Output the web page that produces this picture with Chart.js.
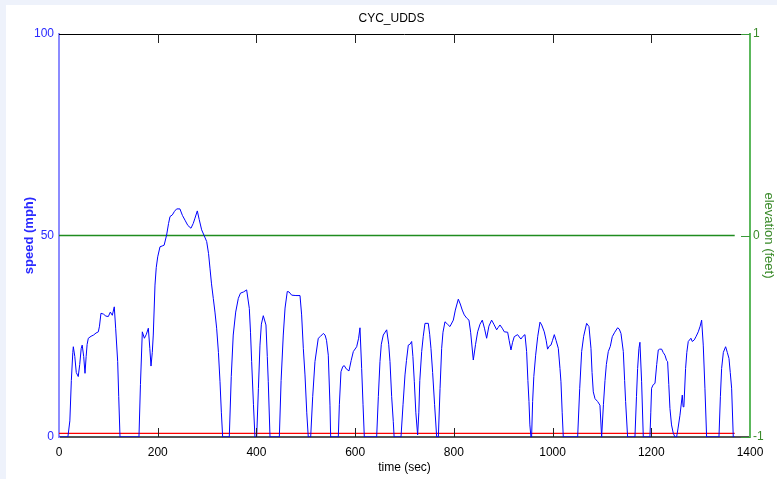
<!DOCTYPE html>
<html>
<head>
<meta charset="utf-8">
<title>CYC_UDDS</title>
<script src="https://cdn.jsdelivr.net/npm/chart.js@4/dist/chart.umd.min.js"></script>
<style>
  html, body { margin: 0; padding: 0; background: #eef2fb; }
  #wrap { position: absolute; left: 6px; top: 5px; width: 771px; height: 474px; background: #fff; }
  canvas { display: block; }
</style>
</head>
<body>
<div id="wrap"><canvas id="cyc-chart" width="771" height="474"></canvas></div>
<script>
// UDDS drive cycle
var timeSec = [0, 18, 22, 25, 28, 29, 32, 35, 39, 42, 45, 47, 50, 52.7, 55, 57, 59.4, 65, 70, 75, 79.7, 82, 85, 90, 95, 100, 104, 108, 112, 114.8, 118.9, 121, 123.6,
  162, 165, 168.8, 173, 177, 181, 184, 186.4, 189, 191, 194.5, 197, 200, 204.6, 209, 213, 218, 222, 224.9, 229.6, 234, 238.4, 245, 250, 255.3, 261, 267.4, 272, 275.5, 280.2, 284, 289, 294, 299.2, 303, 305.9, 309, 312.6, 316, 319.4, 323, 326.2, 329, 331.6,
  345, 349, 353, 358, 363.3, 367.7, 374, 380.2, 385.6, 388, 390.3, 394, 397,
  400.5, 404, 407.2, 410, 413.9, 419.3, 422, 424, 427.5,
  446.4, 450, 454.4, 458, 462.5, 466, 471.4, 480, 488.3, 491.6, 495, 498.4, 502, 505,
  509.9, 514, 518.6, 525.3, 530, 535.5, 539, 542, 545.6, 549, 550.4,
  565.9, 568, 571.3, 575, 578, 582, 587.5, 592, 596.3, 603.1, 607, 609.8, 613.2, 616, 618.6,
  643.6, 647, 650.3, 653, 657, 663.9, 668, 670.6, 674, 677.3, 679,
  692.9, 697, 701, 704, 707.7, 711, 714.5, 717, 719.9, 723, 726.6,
  729, 731, 734.8, 738, 741.5, 748.2, 751, 753.6, 757, 761, 765.2,
  768.6, 772, 775.3, 778, 782, 787, 792.1, 798.9, 803, 809, 813, 817, 821.1, 826, 830.6, 834, 839.4, 844, 848.2, 853, 857.6, 862, 866.4, 871, 876.5, 881, 886.7, 890, 893.4, 898, 902.2, 909, 912, 915.7, 919, 922.4, 929.1, 935.8, 940, 944.1, 947.4, 950, 952.2, 954, 956.2,
  957.5, 959.6, 962, 965.7, 970, 974.5, 978, 983.2, 987, 989.9, 993, 996.7, 1000, 1003.5, 1007, 1011.6, 1015, 1017, 1019.5, 1021.7,
  1050.8, 1055, 1058.9, 1063, 1069, 1073.8, 1077.8, 1080, 1082.5, 1086, 1091.3, 1096, 1099.4,
  1103, 1106.2, 1109, 1112.9, 1117, 1121, 1126, 1131.8, 1135, 1138.6, 1143.3, 1146, 1148, 1152,
  1166.9, 1170, 1172.3, 1175, 1177, 1180.4, 1183.8,
  1197.3, 1199, 1200.6, 1204, 1207.5, 1211, 1214.2, 1217, 1221, 1224, 1227.7, 1231, 1233.1, 1235.5, 1237.8, 1241, 1244.6, 1248,
  1251.3, 1254, 1258.1, 1262.8, 1264.5, 1266.2, 1269.5, 1272, 1274.9, 1280.3, 1283, 1287.1, 1291, 1295.2, 1299, 1302, 1305.3, 1308.7, 1312.1,
  1337.1, 1340, 1342.5, 1346, 1350.6, 1354, 1357.4, 1360, 1362.8, 1366.1, 1369];

var speedMph = [0, 0, 4, 14, 21, 22.4, 20, 16, 15, 18, 22, 22.8, 20, 15.8, 20, 23, 24.5, 25, 25.3, 25.8, 26.1, 27.5, 30.7, 30.5, 30, 29.9, 31, 30.2, 32.3, 27, 18.7, 10, 0,
  0, 13, 26.1, 24.5, 25.5, 27, 22, 17.6, 21, 25.3, 37.7, 42, 44.7, 47.2, 47.4, 47.6, 50.1, 53, 54.7, 55.1, 56, 56.6, 56.6, 55, 53.8, 52.5, 51.8, 53, 54.3, 56.1, 54, 51.4, 50, 48.5, 45.5, 41.9, 38, 34.4, 31, 27, 21, 13.7, 6, 0,
  0, 15, 25.3, 31, 34.4, 35.7, 36, 36.5, 31.9, 26, 18.7, 8, 0,
  0, 12, 22.8, 28, 30.1, 27.8, 20, 13.7, 0,
  0, 14, 25.3, 32, 36.1, 36, 35.2, 35.1, 35.1, 30.3, 22, 15.4, 6, 0,
  0, 10, 18.7, 24.5, 25, 25.7, 25.3, 24, 20.3, 7.9, 0,
  0, 8, 16.2, 17.5, 17.7, 16.9, 16.4, 19, 21.2, 22.4, 24.5, 27.1, 17, 8, 0,
  0, 10, 18.7, 23, 25.3, 26.6, 23, 18.7, 10, 3.8, 0,
  0, 8, 15.4, 19, 22.8, 23, 23.7, 20, 13.7, 6, 0.5,
  6, 14, 21.2, 25, 28.2, 28.2, 25.5, 22, 16, 8, 0,
  0, 12, 22, 26, 28.6, 28, 27.4, 29, 31.5, 34.2, 33, 31.5, 30.3, 29.5, 29, 26, 19.1, 23, 26.1, 28, 29, 27, 24.5, 27.5, 29, 28, 26.6, 27.2, 27.8, 27, 26.1, 26, 24, 21.6, 23.5, 24.9, 25.4, 24.3, 25, 25.4, 21.2, 14, 8.8, 3, 0,
  0, 8.8, 15, 20.3, 25, 28.5, 27.8, 26.1, 24, 21.8, 22.5, 22.8, 24, 25.4, 24, 22, 17, 13.7, 6, 0,
  0, 12, 21.2, 25, 28.2, 27.4, 22, 16, 11.2, 9.5, 8.8, 7.9, 0,
  8, 14, 18, 21.2, 22.5, 24.9, 26, 27.1, 26.8, 25.7, 21.2, 14, 8.8, 0,
  0, 10, 17, 22, 23.5, 13.7, 0,
  0, 6, 12.1, 13, 13.3, 18, 21.6, 21.8, 21.8, 21, 20.3, 19, 18.7, 13, 7.1, 3, 0.9, 0,
  0, 2, 5.4, 10.4, 7.5, 7.9, 17, 21, 23.7, 24.5, 23.7, 24.1, 25, 26.1, 27.5, 29, 22.8, 12.1, 0,
  0, 10, 17, 21, 22.4, 21, 19.5, 16, 12.1, 0, 0];

// flat traces: elevation (right axis) and the red trace near zero
var flatTime = [0, 1369];
var elevationFt = [0, 0];
var redTrace = [0.9, 0.9];

var xTicks = [0, 200, 400, 600, 800, 1000, 1200, 1400];

function toPoints(xs, ys) {
  return xs.map(function (x, i) { return { x: x, y: ys[i] }; });
}

// matlab-like inward ticks plus the top frame line
var frameTicks = {
  id: 'frameTicks',
  afterDatasetsDraw: function (chart) {
    var ctx = chart.ctx;
    var area = chart.chartArea;
    var x = chart.scales.x;
    var y1 = chart.scales.y1;
    ctx.save();
    ctx.lineWidth = 1;
    ctx.strokeStyle = '#000';
    ctx.beginPath();
    ctx.moveTo(area.left, area.top + 0.5);
    ctx.lineTo(area.right, area.top + 0.5);
    ctx.stroke();

    ctx.strokeStyle = '#222';
    x.ticks.forEach(function (t) {
      if (t.value === 0 || t.value === 1400) return;
      var px = Math.round(x.getPixelForValue(t.value)) + 0.5;
      ctx.beginPath();
      ctx.moveTo(px, area.bottom);
      ctx.lineTo(px, area.bottom - 9);
      ctx.moveTo(px, area.top);
      ctx.lineTo(px, area.top + 9);
      ctx.stroke();
    });

    ctx.strokeStyle = '#3a9a3a';
    y1.ticks.forEach(function (t) {
      var py = Math.round(y1.getPixelForValue(t.value)) + 0.5;
      ctx.beginPath();
      ctx.moveTo(area.right, py);
      ctx.lineTo(area.right - 9, py);
      ctx.stroke();
    });
    ctx.restore();
  }
};

var ctx = document.getElementById('cyc-chart').getContext('2d');

var cycChart = new Chart(ctx, {
  type: 'line',
  data: {
    datasets: [
      {
        data: toPoints(timeSec, speedMph),
        yAxisID: 'y',
        borderColor: '#0000ff',
        borderWidth: 1,
        pointRadius: 0,
        tension: 0
      },
      {
        data: toPoints(flatTime, redTrace),
        yAxisID: 'y',
        borderColor: '#ff0000',
        borderWidth: 1.2,
        pointRadius: 0
      },
      {
        data: toPoints(flatTime, elevationFt),
        yAxisID: 'y1',
        borderColor: '#1f8c1f',
        borderWidth: 1.5,
        pointRadius: 0
      }
    ]
  },
  options: {
    responsive: false,
    animation: false,
    devicePixelRatio: 1,
    layout: { padding: 0 },
    plugins: {
      legend: { display: false },
      tooltip: { enabled: false },
      title: {
        display: true,
        text: 'CYC_UDDS',
        color: '#000',
        font: { family: 'Liberation Sans', size: 12, weight: 'normal' },
        padding: { top: 6, bottom: 8.6 }
      }
    },
    scales: {
      x: {
        type: 'linear',
        min: 0,
        max: 1400,
        afterBuildTicks: function (scale) {
          scale.ticks = xTicks.map(function (v) { return { value: v }; });
        },
        afterFit: function (scale) { scale.height = 42; },
        grid: { display: false, drawTicks: false },
        border: { display: true, color: '#555', width: 2 },
        ticks: {
          color: '#000',
          padding: 8,
          maxRotation: 0,
          font: { family: 'Liberation Sans', size: 12 },
          callback: function (value) { return String(value); }
        },
        title: {
          display: true,
          text: 'time (sec)',
          color: '#000',
          font: { family: 'Liberation Sans', size: 12 },
          padding: { top: 0, bottom: 3.8 }
        }
      },
      y: {
        position: 'left',
        min: 0,
        max: 100,
        afterFit: function (scale) { scale.width = 53; },
        grid: { display: false, drawTicks: false },
        border: { display: true, color: '#8c8cff', width: 2 },
        ticks: {
          stepSize: 50,
          color: '#2a2aff',
          padding: 5,
          font: { family: 'Liberation Sans', size: 12 }
        },
        title: {
          display: true,
          text: 'speed (mph)',
          color: '#2a2aff',
          font: { family: 'Liberation Sans', size: 13, weight: 'bold' },
          padding: { top: 16, bottom: 0 }
        }
      },
      y1: {
        position: 'right',
        min: -1,
        max: 1,
        afterFit: function (scale) { scale.width = 27; },
        grid: { display: false, drawTicks: false },
        border: { display: true, color: '#5cb85c', width: 2 },
        ticks: {
          stepSize: 1,
          color: '#3a8a2a',
          padding: 3,
          font: { family: 'Liberation Sans', size: 12 }
        },
        title: {
          display: true,
          text: 'elevation (feet)',
          color: '#3a8a2a',
          font: { family: 'Liberation Sans', size: 13 },
          padding: { top: 1, bottom: 0 }
        }
      }
    }
  },
  plugins: [frameTicks]
});
</script>
</body>
</html>
